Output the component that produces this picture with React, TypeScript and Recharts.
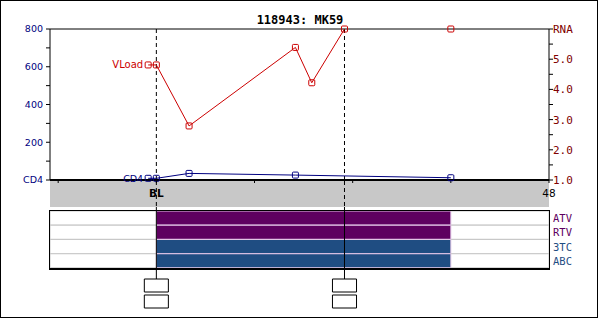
import {
  ComposedChart, LineChart, BarChart, Line, Bar, Cell, XAxis, YAxis,
  ReferenceLine, ReferenceArea, LabelList,
} from "recharts";

// weeks from baseline (BL = 0)
const weeks  = [-1, 0, 4, 17, 19, 23, 36];
const vload  = [4.81, 4.81, 2.79, 5.39, 4.22, 6.0, null];   // log10 RNA
const vloadHi = [null, null, null, null, null, null, 6.0];   // off-scale, not joined
const cd4    = [9, 9, 35, 26, null, null, 12];
const vTag   = ["VLoad", null, null, null, null, null, null];
const cTag   = ["CD4", null, null, null, null, null, null];

const weekTicks = [-12, 0, 12, 24, 36, 48];
const cd4Ticks  = [0, 100, 200, 300, 400, 500, 600, 700, 800];
const rnaTicks  = [1, 1.5, 2, 2.5, 3, 3.5, 4, 4.5, 5, 5.5, 6];

const drugNames  = ["ATV", "RTV", "3TC", "ABC"];
const drugStart  = [0, 0, 0, 0];
const drugEnd    = [36, 36, 36, 36];
const drugColors = ["#5e0060", "#5e0060", "#1f4d82", "#1f4d82"];

const visitMarks = [0, 23];

const NAVY = "#000080";
const RED = "#cc0000";
const DKRED = "#800000";
const SANS = "DejaVu Sans, Verdana, sans-serif";
const MONO = "DejaVu Sans Mono, monospace";

const rows = weeks.map((w, i) => ({
  week: w, vload: vload[i], vloadHi: vloadHi[i], cd4: cd4[i], vTag: vTag[i], cTag: cTag[i],
}));
const drugRows = drugNames.map((d, i) => ({ drug: d, span: [drugStart[i], drugEnd[i]] }));
const markRows = visitMarks.map(w => ({ week: w, y: 0 }));

const square = (color: string) => (p: any) => {
  const { cx, cy, index } = p;
  if (cx == null || cy == null) return <g key={index} />;
  return <rect key={index} x={cx - 3} y={cy - 3} width={6} height={6} rx={1}
    fill="none" stroke={color} strokeWidth={1} />;
};

const weekTick = (p: any) => {
  const v = p.payload.value;
  if (v !== 0 && v !== 48) return <g />;
  return (
    <text x={p.x} y={p.y} dy={12} textAnchor="middle" fill="#000"
      fontFamily={SANS} fontSize={10.5} fontWeight={v === 0 ? "bold" : "normal"}>
      {v === 0 ? "BL" : "48"}
    </text>
  );
};

const drugTick = (p: any) => {
  const i = drugNames.indexOf(p.payload.value);
  return (
    <text x={p.x} y={p.y} dy={4} fill={drugColors[i]} fontFamily={MONO} fontSize={10.5}>
      {p.payload.value}
    </text>
  );
};

export default function App() {
  return (
    <div style={{ position: "relative", width: 600, height: 319, background: "#fff" }}>
      <style>{"body{margin:0}"}</style>
      <div style={{ position: "absolute", left: 0, top: 0, width: 598, height: 318,
        border: "1px solid #000", boxSizing: "border-box" }} />
      <div style={{ position: "absolute", left: 0, top: 13, width: 600, textAlign: "center",
        fontFamily: MONO, fontWeight: "bold", fontSize: 12, lineHeight: "14px" }}>
        118943: MK59
      </div>

      {/* grey time strip under the plot */}
      <div style={{ position: "absolute", left: 50, top: 181, width: 499, height: 26, background: "#c8c8c8" }} />

      {/* main plot: CD4 + viral load */}
      <div style={{ position: "absolute", left: 0, top: 0 }}>
        <ComposedChart width={600} height={210} data={rows} margin={{ top: 29, right: 0, bottom: 0, left: 0 }}>
          <XAxis dataKey="week" type="number" domain={[-13, 48]} ticks={weekTicks} interval={0}
            height={30} tickSize={3} tickMargin={2} tick={weekTick}
            axisLine={{ stroke: "#000", strokeWidth: 2 }} tickLine={{ stroke: "#000" }} />
          <YAxis yAxisId="cd4" domain={[0, 800]} ticks={cd4Ticks} interval={0} width={50}
            tickSize={4} tickMargin={3}
            tickFormatter={v => v === 0 ? "CD4" : v % 200 === 0 ? String(v) : ""}
            tick={{ fill: NAVY, fontSize: 9.5, fontFamily: SANS }}
            axisLine={{ stroke: "#000" }} tickLine={{ stroke: "#000" }} />
          <YAxis yAxisId="rna" orientation="right" domain={[1, 6]} ticks={rnaTicks} interval={0} width={51}
            tickSize={4} tickMargin={0}
            tickFormatter={v => v === 6 ? "RNA" : Number.isInteger(v) ? v.toFixed(1) : ""}
            tick={{ fill: DKRED, fontSize: 11, fontFamily: MONO }}
            axisLine={{ stroke: "#000" }} tickLine={{ stroke: "#000" }} />
          <ReferenceLine yAxisId="cd4" y={800} stroke="#000" />
          {visitMarks.map(w => (
            <ReferenceLine key={w} yAxisId="cd4" x={w} stroke="#000" strokeDasharray="4 3" />
          ))}
          <Line yAxisId="cd4" dataKey="cd4" stroke={NAVY} strokeWidth={1} connectNulls
            dot={square(NAVY)} isAnimationActive={false}>
            <LabelList dataKey="cTag" position="left" offset={5} fill={NAVY} fontSize={9.5} fontFamily={SANS} />
          </Line>
          <Line yAxisId="rna" dataKey="vload" stroke={RED} strokeWidth={1}
            dot={square(RED)} isAnimationActive={false}>
            <LabelList dataKey="vTag" position="left" offset={5} fill={RED} fontSize={10} fontFamily={SANS} />
          </Line>
          <Line yAxisId="rna" dataKey="vloadHi" stroke={RED} dot={square(RED)} isAnimationActive={false} />
        </ComposedChart>
      </div>

      {/* drug bands */}
      <div style={{ position: "absolute", left: 0, top: 0 }}>
        <BarChart layout="vertical" width={600} height={319} data={drugRows} barCategoryGap={0}
          margin={{ top: 211, right: 0, bottom: 51, left: 50 }}>
          <XAxis type="number" domain={[-13, 48]} hide />
          <YAxis type="category" dataKey="drug" orientation="right" width={51} interval={0}
            axisLine={false} tickLine={false} tickSize={0} tickMargin={4} tick={drugTick} />
          <Bar dataKey="span" stroke="#e2c4e6" strokeWidth={1} isAnimationActive={false}
            background={{ fill: "#fff", stroke: "#c8c8c8", strokeWidth: 1 }}>
            {drugRows.map((r, i) => <Cell key={r.drug} fill={drugColors[i]} />)}
          </Bar>
        </BarChart>
      </div>
      <div style={{ position: "absolute", left: 49, top: 210, width: 501, height: 60,
        borderStyle: "solid", borderColor: "#000", borderWidth: "1px 1px 2px 1px", boxSizing: "border-box" }} />

      {/* visit markers running down to the boxes */}
      <div style={{ position: "absolute", left: 0, top: 0 }}>
        <LineChart width={600} height={319} data={markRows} margin={{ top: 180, right: 51, bottom: 9, left: 50 }}>
          <XAxis dataKey="week" type="number" domain={[-13, 48]} hide />
          <YAxis type="number" domain={[0, 130]} reversed hide />
          <Line dataKey="y" stroke="none" dot={false} isAnimationActive={false} />
          {visitMarks.map(w => (
            <ReferenceLine key={"d" + w} segment={[{ x: w, y: 1 }, { x: w, y: 27 }]}
              stroke="#000" strokeDasharray="4 3" ifOverflow="visible" />
          ))}
          {visitMarks.map(w => (
            <ReferenceLine key={"s" + w} segment={[{ x: w, y: 27 }, { x: w, y: 99 }]}
              stroke="#000" ifOverflow="visible" />
          ))}
          {visitMarks.map(w => (
            <ReferenceArea key={"a" + w} x1={w - 1.47} x2={w + 1.47} y1={99} y2={112}
              fill="#fff" fillOpacity={1} stroke="#000" ifOverflow="visible" />
          ))}
          {visitMarks.map(w => (
            <ReferenceArea key={"b" + w} x1={w - 1.47} x2={w + 1.47} y1={115} y2={128}
              fill="#fff" fillOpacity={1} stroke="#000" ifOverflow="visible" />
          ))}
        </LineChart>
      </div>
    </div>
  );
}
